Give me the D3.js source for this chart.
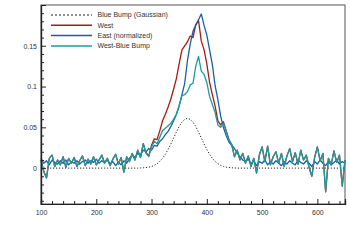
<!DOCTYPE html>
<html><head><meta charset="utf-8">
<script src="https://cdn.jsdelivr.net/npm/d3@7"></script>
<style>
html,body{margin:0;padding:0;background:#fff;}
svg{display:block;}
text{font-family:"Liberation Sans",Arial,Helvetica,sans-serif;}
</style></head>
<body>
<svg id="chart" width="350" height="247"></svg>
<script>
// Wavelength grid (nm), step 5 from 100 to 650
const wavelengths = d3.range(100, 651, 5);

const seriesNames = ["Blue Bump (Gaussian)", "West", "East (normalized)", "West-Blue Bump"];

const blueBump = [
 0,0,0,0,0,0,0,0,0,0,            // 100-145
 0,0,0,0,0,0,0,0,0,0,            // 150-195
 0,0,0,0,0,0,0,0,0,0,            // 200-245
 0,0,0,0,0,0,                    // 250-275
 0.0002,0.0004,0.0007,0.0012,    // 280-295
 0.0021,0.0034,0.0054,0.0083,0.0121,0.0170,0.0229,0.0297,0.0370,0.0443, // 300-345
 0.0510,0.0563,0.0598,0.0610,0.0598,0.0563,0.0510,0.0443,0.0370,0.0297, // 350-395
 0.0229,0.0170,0.0121,0.0083,0.0054,0.0034,0.0021,0.0012,0.0007,0.0004, // 400-445
 0.0002,0,0,0,0,0,0,0,0,0,       // 450-495
 0,0,0,0,0,0,0,0,0,0,            // 500-545
 0,0,0,0,0,0,0,0,0,0,            // 550-595
 0,0,0,0,0,0,0,0,0,0,            // 600-645
 0                               // 650
];

const west = [
 0.010,-0.004,-0.012,0.012,0.016,0.002,0.010,0.004,0.014,0.001,   // 100-145
 0.012,0.006,0.013,0.002,0.009,0.015,0.003,0.011,0.005,0.014,     // 150-195
 0.004,0.010,0.016,0.006,0.012,0.003,0.011,0.017,0.005,0.013,     // 200-245
 -0.005,0.014,0.008,0.018,0.010,0.022,0.013,0.030,0.019,0.015,    // 250-295
 0.028,0.036,0.035,0.046,0.058,0.066,0.075,0.085,0.097,0.110,     // 300-345
 0.128,0.145,0.150,0.155,0.162,0.160,0.176,0.181,0.156,0.145,     // 350-395
 0.128,0.105,0.090,0.076,0.058,0.053,0.057,0.046,0.035,0.029,     // 400-445
 0.014,0.022,0.010,0.018,0.006,0.015,0.002,0.012,-0.006,0.016,    // 450-495
 0.026,0.008,0.027,0.004,0.014,0.020,0.006,0.018,0.002,0.015,     // 500-545
 0.024,0.008,0.019,0.005,0.022,0.010,0.016,0.001,-0.010,0.013,    // 550-595
 0.026,0.009,0.018,-0.029,0.012,0.004,0.021,0.007,0.016,-0.022,   // 600-645
 0.010                                                             // 650
];

const east = [
 0.012,0.006,0.009,0.004,0.010,0.007,0.005,0.009,0.006,0.010,     // 100-145
 0.004,0.008,0.006,0.009,0.005,0.008,0.010,0.006,0.009,0.007,     // 150-195
 0.011,0.006,0.009,0.007,0.010,0.005,0.008,0.003,0.007,0.004,     // 200-245
 0.009,0.006,0.012,0.016,0.013,0.018,0.016,0.022,0.020,0.024,     // 250-295
 0.022,0.028,0.027,0.033,0.036,0.041,0.045,0.051,0.058,0.066,     // 300-345
 0.076,0.090,0.104,0.132,0.152,0.168,0.175,0.182,0.189,0.175,     // 350-395
 0.163,0.145,0.127,0.101,0.084,0.064,0.050,0.040,0.032,0.028,     // 400-445
 0.024,0.018,0.014,0.010,0.008,0.011,0.005,0.009,0.003,0.008,     // 450-495
 0.006,0.010,0.004,0.008,0.005,0.009,0.006,0.003,0.008,0.005,     // 500-545
 0.009,0.006,0.004,0.010,0.007,0.005,0.009,0.006,0.002,0.008,     // 550-595
 0.005,0.010,0.006,0.003,0.008,0.004,0.007,0.010,0.005,0.008,     // 600-645
 0.006                                                             // 650
];

const westMinusBump = [
 0.010,-0.004,-0.012,0.012,0.016,0.002,0.010,0.004,0.014,0.001,   // 100-145
 0.012,0.006,0.013,0.002,0.009,0.015,0.003,0.011,0.005,0.014,     // 150-195
 0.004,0.010,0.016,0.006,0.012,0.003,0.011,0.017,0.005,0.013,     // 200-245
 -0.005,0.014,0.008,0.018,0.010,0.022,0.013,0.030,0.018,0.014,    // 250-295
 0.026,0.033,0.030,0.038,0.046,0.049,0.052,0.055,0.060,0.066,     // 300-345
 0.077,0.089,0.090,0.094,0.102,0.104,0.125,0.137,0.119,0.115,     // 350-395
 0.105,0.088,0.078,0.068,0.053,0.050,0.055,0.045,0.034,0.029,     // 400-445
 0.014,0.022,0.010,0.018,0.006,0.015,0.002,0.012,-0.006,0.016,    // 450-495
 0.026,0.008,0.027,0.004,0.014,0.020,0.006,0.018,0.002,0.015,     // 500-545
 0.024,0.008,0.019,0.005,0.022,0.010,0.016,0.001,-0.010,0.013,    // 550-595
 0.026,0.009,0.018,-0.029,0.012,0.004,0.021,0.007,0.016,-0.022,   // 600-645
 0.010                                                             // 650
];

const xMajorTicks = [100, 200, 300, 400, 500, 600];
const yMajorTicks = [0, 0.05, 0.1, 0.15];
const yTickLabels = ["0", "0.05", "0.1", "0.15"];

const colors = ["#222222", "#a81c10", "#1a5ea6", "#1d9c9e"];

const svg = d3.select("#chart");
const x = d3.scaleLinear().domain([100, 650]).range([41, 345]);
const y = d3.scaleLinear().domain([-0.044, 0.2]).range([204, 5]);

// frame
svg.append("rect").attr("x", 41).attr("y", 5).attr("width", 304).attr("height", 199)
  .attr("fill", "none").attr("stroke", "#555").attr("stroke-width", 1);

const seriesData = [blueBump, west, east, westMinusBump];
const line = d3.line().x((d, i) => x(wavelengths[i])).y(d => y(d));

const plot = svg.append("g");
seriesData.forEach((s, k) => {
  const p = plot.append("path").datum(s).attr("d", line)
    .attr("fill", "none").attr("stroke", colors[k])
    .attr("stroke-width", k === 0 ? 1 : 1.3)
    .attr("stroke-linejoin", "round");
  if (k === 0) p.attr("stroke-dasharray", "1.2,1.8");
});

// Axes (ticks inward)
const xMinor = d3.range(100, 651, 20).filter(v => !xMajorTicks.includes(v));
const yMinor = d3.range(-4, 20).map(v => v / 100).filter(v => !yMajorTicks.some(t => Math.abs(t - v) < 1e-9));

const xAxis = d3.axisBottom(x).tickValues(xMajorTicks).tickSize(-5).tickPadding(6).tickFormat(d3.format("d"));
const xAxisMinor = d3.axisBottom(x).tickValues(xMinor).tickSize(-3).tickFormat("");
const yAxis = d3.axisLeft(y).tickValues(yMajorTicks).tickSize(-5).tickPadding(4)
  .tickFormat((d, i) => yTickLabels[i]);
const yAxisMinor = d3.axisLeft(y).tickValues(yMinor).tickSize(-3).tickFormat("");

function styleAxis(g) {
  g.select(".domain").attr("stroke", "#222").attr("stroke-width", 1.2);
  g.selectAll(".tick line").attr("stroke", "#222");
  g.selectAll("text").attr("font-size", 7).attr("fill", "#333")
   .attr("font-family", "Liberation Sans, Arial, sans-serif");
}
svg.append("g").attr("transform", "translate(0,204)").call(xAxisMinor).call(styleAxis);
svg.append("g").attr("transform", "translate(0,204)").call(xAxis).call(styleAxis);
svg.append("g").attr("transform", "translate(41,0)").call(yAxisMinor).call(styleAxis);
svg.append("g").attr("transform", "translate(41,0)").call(yAxis).call(styleAxis);

// Legend
const legend = svg.append("g");
seriesNames.forEach((name, k) => {
  const ly = 15 + k * 10.3;
  const l = legend.append("line").attr("x1", 51).attr("x2", 92).attr("y1", ly).attr("y2", ly)
    .attr("stroke", colors[k]).attr("stroke-width", k === 0 ? 1 : 1.5);
  if (k === 0) l.attr("stroke-dasharray", "2,2");
  legend.append("text").attr("x", 97.5).attr("y", ly).attr("dy", "0.35em")
    .attr("font-size", 7).attr("fill", "#333").text(name);
});
</script>
</body></html>
